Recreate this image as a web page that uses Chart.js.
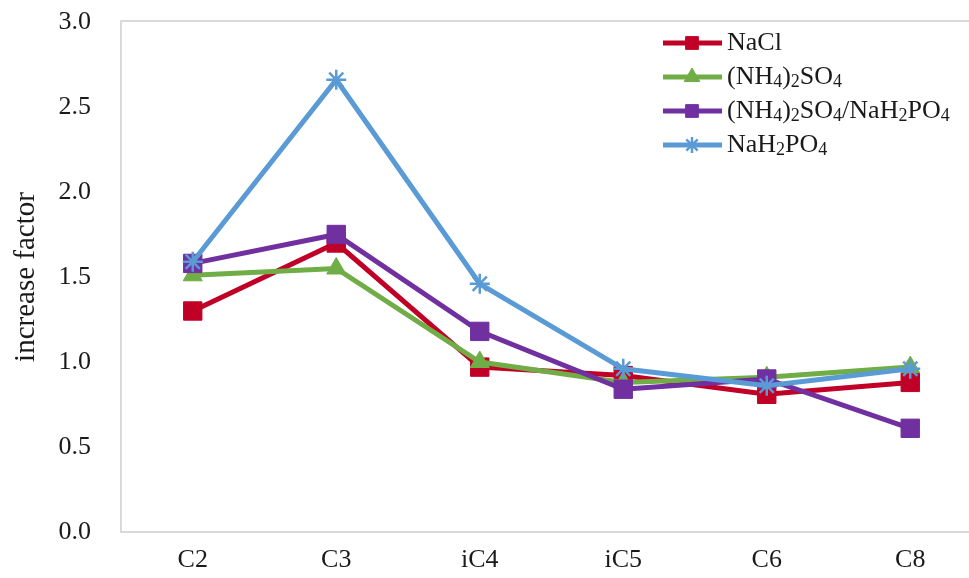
<!DOCTYPE html>
<html>
<head>
<meta charset="utf-8">
<script src="https://cdn.jsdelivr.net/npm/chart.js@4/dist/chart.umd.min.js"></script>
<style>
  html, body { margin: 0; padding: 0; background: #fff; overflow: hidden; }
  #wrap { width: 996px; height: 578px; }
</style>
</head>
<body>
<div id="wrap"><canvas id="chart" width="996" height="578"></canvas></div>
<script>
// categories + series
const categories = ['C2', 'C3', 'iC4', 'iC5', 'C6', 'C8'];
const nacl = [1.30, 1.70, 0.97, 0.92, 0.81, 0.88];
const ammSulfate = [1.51, 1.55, 1.00, 0.88, 0.91, 0.97];
const ammSulfatePhosphate = [1.58, 1.75, 1.18, 0.84, 0.90, 0.61];
const phosphate = [1.59, 2.66, 1.46, 0.96, 0.86, 0.96];
const seriesNames = ['NaCl', '(NH4)2SO4', '(NH4)2SO4/NaH2PO4', 'NaH2PO4'];
const yMin = 0, yMax = 3, yStep = 0.5;

const FONT = '"Liberation Serif", "Times New Roman", serif';
const colors = ['#C00026', '#70AD47', '#7030A0', '#5B9BD5'];

function makeSet(i, data, style, radius) {
  return {
    label: seriesNames[i],
    data: data,
    borderColor: colors[i],
    backgroundColor: colors[i],
    borderWidth: 5,
    pointStyle: style,
    pointRadius: radius,
    pointHoverRadius: radius,
    pointBackgroundColor: colors[i],
    pointBorderColor: colors[i],
    pointBorderWidth: style === 'star' ? 2.5 : 1,
    tension: 0,
    order: 4 - i,
    clip: false
  };
}

// no extra room for label overflow, the layout padding decides
function noOverflow(scale) {
  scale.paddingTop = 0;
  scale.paddingBottom = 0;
  scale.paddingLeft = 0;
  scale.paddingRight = 0;
}

// grey frame round the plot area
const framePlugin = {
  id: 'frame',
  beforeDraw(chart) {
    const a = chart.chartArea, ctx = chart.ctx;
    ctx.save();
    ctx.strokeStyle = '#d9d9d9';
    ctx.lineWidth = 2;
    ctx.strokeRect(a.left, a.top - 1, a.right - a.left, a.bottom - a.top + 1);
    ctx.restore();
  }
};

// legend with line + marker and subscript digits
function drawChem(ctx, text, x, y, size) {
  let cx = x;
  for (const ch of text) {
    const sub = /[0-9]/.test(ch);
    ctx.font = (sub ? Math.round(size * 0.68) : size) + 'px ' + FONT;
    ctx.fillText(ch, cx, sub ? y + size * 0.22 : y);
    cx += ctx.measureText(ch).width;
  }
}

const legendPlugin = {
  id: 'chemLegend',
  afterDraw(chart) {
    const ctx = chart.ctx;
    const rows = [43, 77, 111, 145];
    const legendRadius = [9, 9, 9, 8];
    ctx.save();
    chart.data.datasets.forEach((ds, i) => {
      const y = rows[i];
      ctx.strokeStyle = ds.borderColor;
      ctx.lineWidth = 5;
      ctx.beginPath();
      ctx.moveTo(663, y);
      ctx.lineTo(722, y);
      ctx.stroke();
      ctx.fillStyle = ds.borderColor;
      ctx.strokeStyle = ds.borderColor;
      ctx.lineWidth = ds.pointBorderWidth;
      Chart.helpers.drawPoint(ctx, {
        pointStyle: ds.pointStyle,
        radius: legendRadius[i],
        rotation: 0,
        borderWidth: ds.pointBorderWidth
      }, 692, y);
      ctx.fillStyle = '#1a1a1a';
      ctx.textBaseline = 'middle';
      ctx.textAlign = 'left';
      drawChem(ctx, ds.label, 727, y, 26);
    });
    ctx.restore();
  }
};

new Chart(document.getElementById('chart'), {
  type: 'line',
  data: {
    labels: categories,
    datasets: [
      makeSet(0, nacl, 'rect', 13),
      makeSet(1, ammSulfate, 'triangle', 11),
      makeSet(2, ammSulfatePhosphate, 'rect', 13),
      makeSet(3, phosphate, 'star', 10)
    ]
  },
  options: {
    responsive: false,
    animation: false,
    layout: { padding: { left: 0, top: 22, right: 0, bottom: 0 } },
    plugins: {
      legend: { display: false },
      tooltip: { enabled: false }
    },
    scales: {
      x: {
        offset: true,
        grid: { display: false, drawTicks: false },
        border: { display: false },
        ticks: {
          color: '#1a1a1a',
          padding: 13,
          font: { family: FONT, size: 26 }
        },
        afterFit(scale) { scale.height = 46; noOverflow(scale); }
      },
      y: {
        min: yMin,
        max: yMax,
        grid: { display: false, drawTicks: false },
        border: { display: false },
        ticks: {
          stepSize: yStep,
          color: '#1a1a1a',
          padding: 30,
          font: { family: FONT, size: 26 },
          callback: v => v.toFixed(1)
        },
        title: {
          display: true,
          text: 'increase factor',
          color: '#1a1a1a',
          font: { family: FONT, size: 29 },
          padding: { top: 9, bottom: 0 }
        },
        afterFit(scale) { scale.width = 121; noOverflow(scale); }
      }
    }
  },
  plugins: [framePlugin, legendPlugin]
});
</script>
</body>
</html>
